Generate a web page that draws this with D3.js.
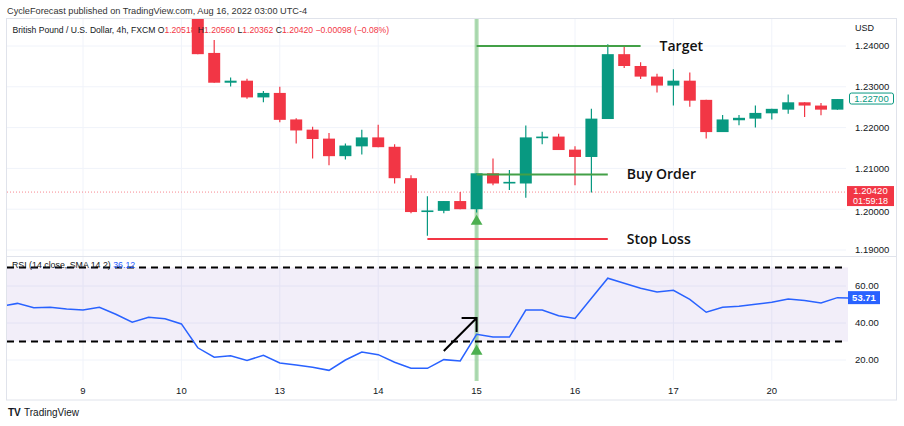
<!DOCTYPE html>
<html>
<head>
<meta charset="utf-8">
<script src="https://cdn.jsdelivr.net/npm/d3@7"></script>
<style>
  body { margin: 0; background: #fff; }
  svg { display: block; }
  text { font-family: "Liberation Sans", Arial, sans-serif; }
</style>
</head>
<body>
<svg id="chart"></svg>
<script>
// ---- data (4h bars, index 0 = first bar at the left edge) ----
const dayLabels = ["9", "10", "13", "14", "15", "16", "17", "20"];
const dayIndex = [5, 11, 17, 23, 29, 35, 41, 47];

// candles start at bar 12 (earlier ones sit above the visible price range)
const firstCandle = 12;
const opens  = [1.2471, 1.2383, 1.2310, 1.2315, 1.2274, 1.2285, 1.2220, 1.2195, 1.2173, 1.2130,
                1.2154, 1.2176, 1.2153, 1.2076, 1.1993, 1.1996, 1.2020, 1.2000, 1.2088, 1.2063,
                1.2063, 1.2174, 1.2178, 1.2146, 1.2128, 1.2221, 1.2380, 1.2351, 1.2325, 1.2303,
                1.2315, 1.2268, 1.2189, 1.2218, 1.2222, 1.2235, 1.2244, 1.2262, 1.2254, 1.2244];
const highs  = [1.2471, 1.2415, 1.2323, 1.2320, 1.2290, 1.2300, 1.2223, 1.2202, 1.2187, 1.2161,
                1.2195, 1.2207, 1.2159, 1.2083, 1.2032, 1.2020, 1.2042, 1.2088, 1.2124, 1.2096,
                1.2205, 1.2190, 1.2185, 1.2154, 1.2246, 1.2404, 1.2398, 1.2360, 1.2332, 1.2343,
                1.2335, 1.2268, 1.2231, 1.2231, 1.2254, 1.2246, 1.2281, 1.2262, 1.2260, 1.2270];
const lows   = [1.2380, 1.2310, 1.2301, 1.2271, 1.2262, 1.2213, 1.2161, 1.2124, 1.2108, 1.2122,
                1.2134, 1.2152, 1.2063, 1.1990, 1.1935, 1.1990, 1.2000, 1.1992, 1.2059, 1.2047,
                1.2028, 1.2159, 1.2145, 1.2059, 1.2041, 1.2221, 1.2346, 1.2319, 1.2286, 1.2254,
                1.2251, 1.2173, 1.2189, 1.2206, 1.2200, 1.2220, 1.2234, 1.2226, 1.2230, 1.2244];
const closes = [1.2380, 1.2310, 1.2315, 1.2274, 1.2285, 1.2219, 1.2193, 1.2172, 1.2130, 1.2156,
                1.2176, 1.2152, 1.2076, 1.1993, 1.1997, 1.2020, 1.2000, 1.2088, 1.2063, 1.2067,
                1.2176, 1.2178, 1.2145, 1.2128, 1.2222, 1.2380, 1.2351, 1.2325, 1.2303, 1.2315,
                1.2266, 1.2189, 1.2220, 1.2224, 1.2236, 1.2246, 1.2262, 1.2254, 1.2244, 1.2270];

const rsiValues = [49.0, 50.6, 48.3, 48.5, 47.6, 47.0, 48.5, 44.7, 40.4, 43.1,
                   42.3, 39.5, 26.6, 21.5, 22.3, 19.8, 22.5, 18.4, 17.3, 16.1,
                   14.4, 20.0, 24.3, 22.9, 18.8, 15.5, 15.5, 20.2, 19.5, 33.9,
                   32.4, 32.4, 47.0, 47.0, 43.9, 42.5, 53.4, 64.2, 61.5, 58.8,
                   56.8, 57.7, 52.8, 45.8, 48.5, 49.0, 50.1, 51.2, 53.0, 52.1,
                   50.8, 53.7, 53.4];

const priceTicks = [1.19, 1.20, 1.21, 1.22, 1.23, 1.24];
const rsiTicks = [20, 40, 60];
const rsiBand = [30, 70];
const lastPrice = 1.2042;
const lastRsi = 53.71;

const signalBar = 29;
const levels = [
  { name: "Target",    price: 1.2400, from: 29, to: 39, color: "#43a047" },
  { name: "Buy Order", price: 1.2085, from: 29, to: 37, color: "#43a047" },
  { name: "Stop Loss", price: 1.1927, from: 26, to: 37, color: "#f23645" }
];
// arrow drawn on the RSI pane: [bar, rsi]
const arrowFrom = [27.0, 24.9];
const arrowTo = [29.0, 42.7];

// ---- layout ----
const W = 904, H = 426;
const L = 7, R = 846, TOP = 19, SEP = 256, BOT = 380;
const RED = "#f23645", GREEN = "#089981", GRID = "#f0f3fa", TXT = "#131722";

const svg = d3.select("#chart").attr("width", W).attr("height", H)
  .attr("viewBox", [0, 0, W, H]);
svg.append("rect").attr("width", W).attr("height", H).attr("fill", "#fff");

const x = d3.scaleLinear().domain([0, 51]).range([1, 837.4]);
const y = d3.scaleLinear().domain([1.19, 1.24]).range([250, 46]);
const yR = d3.scaleLinear().domain([20, 60]).range([360, 286]);
const bw = 12;

const defs = svg.append("defs");
defs.append("clipPath").attr("id", "cp").append("rect")
  .attr("x", L).attr("y", TOP).attr("width", R - L).attr("height", SEP - TOP);
defs.append("clipPath").attr("id", "cr").append("rect")
  .attr("x", L).attr("y", SEP + 1).attr("width", R - L + 2).attr("height", BOT - SEP - 1);

// grid
svg.append("g").selectAll("line").data(dayIndex).join("line")
  .attr("x1", d => x(d)).attr("x2", d => x(d)).attr("y1", TOP).attr("y2", BOT)
  .attr("stroke", GRID);
svg.append("g").selectAll("line").data(priceTicks).join("line")
  .attr("x1", L).attr("x2", R).attr("y1", d => y(d)).attr("y2", d => y(d))
  .attr("stroke", GRID);
svg.append("g").selectAll("line").data(rsiTicks).join("line")
  .attr("x1", L).attr("x2", R).attr("y1", d => yR(d)).attr("y2", d => yR(d))
  .attr("stroke", GRID);

// frame
svg.append("rect").attr("x", 6.5).attr("y", 18.5).attr("width", 890).attr("height", 381.5)
  .attr("fill", "none").attr("stroke", "#e0e3eb");
svg.append("line").attr("x1", 7).attr("x2", 896).attr("y1", SEP + 0.5).attr("y2", SEP + 0.5)
  .attr("stroke", "#e0e3eb");

// RSI band
svg.append("rect").attr("x", L).attr("width", 841)
  .attr("y", yR(rsiBand[1])).attr("height", yR(rsiBand[0]) - yR(rsiBand[1]))
  .attr("fill", "#7e57c2").attr("fill-opacity", 0.1);

// last price dotted line
svg.append("line").attr("x1", L).attr("x2", R).attr("y1", y(lastPrice)).attr("y2", y(lastPrice))
  .attr("stroke", RED).attr("stroke-opacity", 0.6).attr("stroke-dasharray", "1,2");

// cursor highlight on the signal bar
svg.append("line").attr("x1", x(signalBar)).attr("x2", x(signalBar)).attr("y1", TOP).attr("y2", BOT + 1)
  .attr("stroke", "#4caf50").attr("stroke-opacity", 0.45).attr("stroke-width", 4);

// candles
const candles = opens.map((o, i) => ({
  i: firstCandle + i, o, h: highs[i], l: lows[i], c: closes[i]
}));
const cg = svg.append("g").attr("clip-path", "url(#cp)");
cg.selectAll("line").data(candles).join("line")
  .attr("x1", d => x(d.i)).attr("x2", d => x(d.i))
  .attr("y1", d => y(d.h)).attr("y2", d => y(d.l))
  .attr("stroke", d => d.c >= d.o ? GREEN : RED).attr("stroke-width", 1.2);
cg.selectAll("rect").data(candles).join("rect")
  .attr("x", d => x(d.i) - bw / 2).attr("width", bw)
  .attr("y", d => y(Math.max(d.o, d.c)))
  .attr("height", d => Math.max(1.5, Math.abs(y(d.o) - y(d.c))))
  .attr("fill", d => d.c >= d.o ? GREEN : RED);

// trade levels
svg.append("g").selectAll("line").data(levels).join("line")
  .attr("x1", d => x(d.from)).attr("x2", d => x(d.to))
  .attr("y1", d => y(d.price)).attr("y2", d => y(d.price))
  .attr("stroke", d => d.color).attr("stroke-width", 2);
svg.append("g").selectAll("text").data(levels).join("text")
  .attr("x", d => x(d.to) + 19).attr("y", d => y(d.price)).attr("dy", "0.35em")
  .attr("fill", "#111").style("font-family", "'Open Sans', sans-serif")
  .attr("font-weight", 600).attr("font-size", 14)
  .text(d => d.name);

// signal markers
const tri = d3.symbol().type(d3.symbolTriangle).size(60);
svg.append("path").attr("d", tri)
  .attr("transform", `translate(${x(signalBar)},${y(lows[signalBar - firstCandle]) + 9})`)
  .attr("fill", "#4caf50");
svg.append("path").attr("d", tri)
  .attr("transform", `translate(${x(signalBar)},${yR(rsiValues[signalBar]) + 17})`)
  .attr("fill", "#4caf50");

// RSI band lines
svg.append("g").selectAll("line").data(rsiBand).join("line")
  .attr("x1", L).attr("x2", R - 4).attr("y1", d => yR(d)).attr("y2", d => yR(d))
  .attr("stroke", "#000").attr("stroke-width", 2).attr("stroke-dasharray", "7,5");

// RSI line
svg.append("path").datum(rsiValues).attr("clip-path", "url(#cr)")
  .attr("d", d3.line().x((d, i) => x(i)).y(d => yR(d)))
  .attr("fill", "none").attr("stroke", "#2962ff").attr("stroke-width", 1.5);

// arrow
const ax0 = x(arrowFrom[0]), ay0 = yR(arrowFrom[1]), ax1 = x(arrowTo[0]), ay1 = yR(arrowTo[1]);
svg.append("path")
  .attr("d", `M${ax0},${ay0}L${ax1},${ay1}M${ax1 - 15},${ay1}L${ax1},${ay1}L${ax1},${ay1 + 14}`)
  .attr("fill", "none").attr("stroke", "#000").attr("stroke-width", 2);

// price axis
svg.append("text").attr("x", 855).attr("y", 31).attr("font-size", 9).attr("fill", TXT).text("USD");
svg.append("g").selectAll("text").data(priceTicks).join("text")
  .attr("x", 855).attr("y", d => y(d) + (d === 1.20 ? 2 : 0)).attr("dy", "0.35em")
  .attr("font-size", 9.5).attr("fill", TXT)
  .text(d => d.toFixed(5));

// last bar close label
const lastClose = closes[closes.length - 1];
svg.append("rect").attr("x", 849.5).attr("y", y(lastClose) - 6).attr("width", 44).attr("height", 11)
  .attr("rx", 2).attr("fill", "#fff").attr("stroke", GREEN);
svg.append("text").attr("x", 871.5).attr("y", y(lastClose)).attr("dy", "0.35em")
  .attr("text-anchor", "middle").attr("font-size", 9.5).attr("fill", GREEN)
  .text(lastClose.toFixed(5));

// current price label
svg.append("rect").attr("x", 847).attr("y", y(lastPrice) - 6).attr("width", 47).attr("height", 20)
  .attr("fill", RED);
svg.append("text").attr("x", 870.5).attr("y", y(lastPrice) - 1).attr("dy", "0.35em")
  .attr("text-anchor", "middle").attr("font-size", 9.5).attr("fill", "#fff")
  .text(lastPrice.toFixed(5));
svg.append("text").attr("x", 870.5).attr("y", y(lastPrice) + 8.5).attr("dy", "0.35em")
  .attr("text-anchor", "middle").attr("font-size", 9).attr("fill", "#fff")
  .text("01:59:18");

// RSI axis
svg.append("g").selectAll("text").data(rsiTicks).join("text")
  .attr("x", 855).attr("y", d => yR(d)).attr("dy", "0.35em")
  .attr("font-size", 9.5).attr("fill", TXT)
  .text(d => d.toFixed(2));
svg.append("rect").attr("x", 848).attr("y", yR(lastRsi) - 6.5).attr("width", 32).attr("height", 13)
  .attr("fill", "#2962ff");
svg.append("text").attr("x", 864).attr("y", yR(lastRsi)).attr("dy", "0.35em")
  .attr("text-anchor", "middle").attr("font-size", 9.5).attr("fill", "#fff").attr("font-weight", 600)
  .text(lastRsi.toFixed(2));

// time axis
svg.append("g").selectAll("text").data(dayIndex).join("text")
  .attr("x", d => x(d)).attr("y", 391).attr("dy", "0.35em")
  .attr("text-anchor", "middle").attr("font-size", 9.5).attr("fill", TXT)
  .text((d, i) => dayLabels[i]);

// legends (drawn over the dashed band line, as in the screenshot)
const rsiLegend = svg.append("text").attr("x", 12).attr("y", 267.5).attr("font-size", 8.8).attr("fill", TXT);
rsiLegend.append("tspan").text("RSI (14 close, SMA 14 2) ");
rsiLegend.append("tspan").attr("fill", "#2962ff").text("36.12");

svg.append("text").attr("x", 7).attr("y", 13.5).attr("font-size", 9.2).attr("fill", "#333")
  .text("CycleForecast published on TradingView.com, Aug 16, 2022 03:00 UTC-4");

const head = svg.append("text").attr("x", 12.5).attr("y", 32.5).attr("font-size", 8.6).attr("fill", TXT);
head.append("tspan").text("British Pound / U.S. Dollar, 4h, FXCM O");
head.append("tspan").attr("fill", RED).text("1.20518");
head.append("tspan").text("  H");
head.append("tspan").attr("fill", RED).text("1.20560");
head.append("tspan").text("  L");
head.append("tspan").attr("fill", RED).text("1.20362");
head.append("tspan").text("  C");
head.append("tspan").attr("fill", RED).text("1.20420  \u22120.00098 (\u22120.08%)");

// footer
svg.append("text").attr("x", 8).attr("y", 416).attr("font-size", 10).attr("font-weight", 700)
  .attr("fill", TXT).text("TV");
svg.append("text").attr("x", 24).attr("y", 416).attr("font-size", 10).attr("fill", TXT)
  .text("TradingView");
</script>
</body>
</html>
